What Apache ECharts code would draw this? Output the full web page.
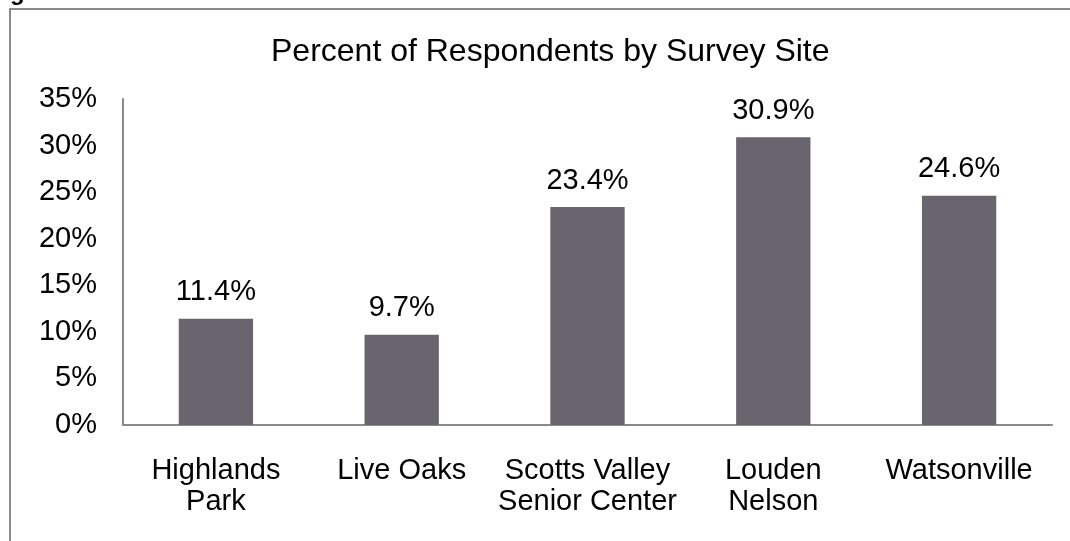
<!DOCTYPE html>
<html><head><meta charset="utf-8">
<script src="https://cdn.jsdelivr.net/npm/echarts@6/dist/echarts.min.js"></script>
<style>html,body{margin:0;padding:0;background:#fff}#c{width:1070px;height:541px}</style>
</head><body><div id="c"></div>
<script>
var categories = ['Highlands\nPark', 'Live Oaks', 'Scotts Valley\nSenior Center', 'Louden\nNelson', 'Watsonville'];
var values = [11.4, 9.7, 23.4, 30.9, 24.6];
var titleText = 'Percent of Respondents by Survey Site';
var FONT = 'Arial, "Liberation Sans", sans-serif';
var chart = echarts.init(document.getElementById('c'), null, {renderer: 'canvas'});
chart.setOption({
  backgroundColor: '#fff',
  animation: false,
  title: {
    text: titleText, left: 266, top: 31,
    textStyle: {fontFamily: FONT, fontSize: 32, fontWeight: 'normal', color: '#000'}
  },
  graphic: [
    {type: 'rect', shape: {x: 10, y: 9, width: 1100, height: 600}, style: {fill: 'none', stroke: '#8a8a8a', lineWidth: 2}},
    {type: 'text', left: 10, top: -19, style: {text: 'g', font: 'bold 24px Arial, "Liberation Sans", sans-serif', fill: '#000'}}
  ],
  grid: {left: 123, right: 18, top: 99, bottom: 116},
  xAxis: {
    type: 'category', data: categories,
    axisLine: {lineStyle: {color: '#8a8a8a', width: 2}},
    axisTick: {show: false},
    axisLabel: {fontFamily: FONT, fontSize: 29, color: '#000', margin: 30, lineHeight: 31, interval: 0}
  },
  yAxis: {
    type: 'value', min: 0, max: 35, interval: 5,
    axisLine: {show: true, lineStyle: {color: '#8a8a8a', width: 2}},
    axisTick: {show: false},
    splitLine: {show: false},
    axisLabel: {fontFamily: FONT, fontSize: 29, color: '#000', margin: 26, formatter: '{value}%'}
  },
  series: [{
    type: 'bar', data: values, barWidth: '40%',
    itemStyle: {color: '#68656e'},
    label: {show: true, position: 'top', distance: 12, fontFamily: FONT, fontSize: 29, color: '#000',
      formatter: function (p) { return p.value.toFixed(1) + '%'; }}
  }]
});
</script></body></html>
